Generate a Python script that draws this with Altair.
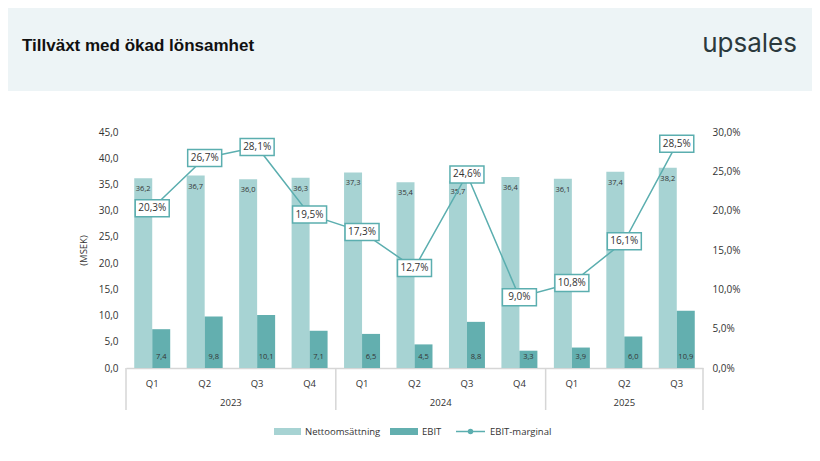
import altair as alt
import pandas as pd

years = ["2023"] * 4 + ["2024"] * 4 + ["2025"] * 3
quarters = ["Q1", "Q2", "Q3", "Q4", "Q1", "Q2", "Q3", "Q4", "Q1", "Q2", "Q3"]
netto = [36.2, 36.7, 36.0, 36.3, 37.3, 35.4, 35.7, 36.4, 36.1, 37.4, 38.2]
ebit = [7.4, 9.8, 10.1, 7.1, 6.5, 4.5, 8.8, 3.3, 3.9, 6.0, 10.9]
margin = [20.3, 26.7, 28.1, 19.5, 17.3, 12.7, 24.6, 9.0, 10.8, 16.1, 28.5]
year_labels = ["2023", "2024", "2025"]
year_mid = [2, 6, 9.5]
year_bounds = [0, 4, 8, 11]

series_order = ["Nettoomsättning", "EBIT"]
C_NETTO = "#A7D3D3"
C_EBIT = "#63AFAF"
C_LINE = "#5BAEAF"
C_TEXT = "#333333"
FONT = "Open Sans"

keys = [f"{y} {q}" for y, q in zip(years, quarters)]

wide = pd.DataFrame({"key": keys, "netto": netto, "ebit": ebit, "margin": margin})
wide["mlabel"] = wide["margin"].map(lambda v: f"{v:.1f}".replace(".", ",") + "%")

long = pd.concat([
    pd.DataFrame({"key": keys, "series": "Nettoomsättning", "value": netto}),
    pd.DataFrame({"key": keys, "series": "EBIT", "value": ebit}),
])
long["label"] = long["value"].map(lambda v: f"{v:.1f}".replace(".", ","))

x_band = alt.X(
    "key:N", sort=keys,
    scale=alt.Scale(paddingInner=0.314, paddingOuter=0.157),
    axis=alt.Axis(title=None, labelExpr="split(datum.label,' ')[1]", ticks=False,
                  domainColor="#d6d6d6", domainWidth=1.5, labelPadding=10,
                  labelFontSize=9.5, labelColor=C_TEXT, labelAngle=0, labelFont=FONT),
)
x_band_noaxis = alt.X("key:N", sort=keys,
                      scale=alt.Scale(paddingInner=0.314, paddingOuter=0.157), axis=None)
xoff = alt.XOffset("series:N", sort=series_order, scale=alt.Scale(paddingInner=0))

left_axis = alt.Axis(values=list(range(0, 46, 5)), grid=False, domain=False, ticks=False,
                     labelOverlap=False,
                     labelExpr="replace(format(datum.value,'.1f'),'.',',')",
                     labelPadding=8, labelFontSize=10, labelColor=C_TEXT, labelFont=FONT,
                     title="(MSEK)", titleFontWeight="normal", titleFontSize=9.5,
                     titleColor=C_TEXT, titleFont=FONT, titleX=-43, titleY=118,
                     titleAngle=-90, titleAlign="center", titleBaseline="middle")


def yl(field):
    return alt.Y(field, scale=alt.Scale(domain=[0, 45], nice=False), axis=left_axis)


right_axis = alt.Axis(orient="right", values=list(range(0, 31, 5)), grid=False,
                      domain=False, ticks=False, labelOverlap=False,
                      labelExpr="replace(format(datum.value,'.1f'),'.',',')+'%'",
                      labelPadding=9, labelFontSize=10, labelColor=C_TEXT,
                      labelFont=FONT, title=None)


def yr_(field):
    return alt.Y(field, scale=alt.Scale(domain=[0, 30], nice=False), axis=right_axis)


bars = alt.Chart(long).mark_bar().encode(
    x=x_band,
    xOffset=xoff,
    y=yl("value:Q"),
    color=alt.Color("series:N", scale=alt.Scale(domain=series_order, range=[C_NETTO, C_EBIT]),
                    legend=None),
)

netto_text = alt.Chart(long).transform_filter(alt.datum.series == "Nettoomsättning").mark_text(
    baseline="top", dy=7, fontSize=7.5, color=C_TEXT, font=FONT
).encode(x=x_band, xOffset=xoff, y=yl("value:Q"), text="label:N")

ebit_text = alt.Chart(long).transform_filter(alt.datum.series == "EBIT").transform_calculate(
    base="0"
).mark_text(
    baseline="middle", dy=-11, fontSize=7.5, color=C_TEXT, font=FONT
).encode(x=x_band, xOffset=xoff, y=yl("base:Q"), text="label:N")

left = alt.layer(bars, netto_text, ebit_text)

line = alt.Chart(wide).mark_line(color=C_LINE, strokeWidth=1.5).encode(
    x=x_band_noaxis, y=yr_("margin:Q"))
boxes = alt.Chart(wide).mark_point(
    shape="M-1,-0.5H1V0.5H-1Z", size=1156, filled=True, fill="white", fillOpacity=1,
    stroke=C_LINE, strokeWidth=1.5, opacity=1
).encode(x=x_band_noaxis, y=yr_("margin:Q"))
box_text = alt.Chart(wide).mark_text(fontSize=10, color=C_TEXT, font=FONT).encode(
    x=x_band_noaxis, y=yr_("margin:Q"), text="mlabel:N")

right = alt.layer(line, boxes, box_text)

# decorations: year group labels, separators
xq = alt.Scale(domain=[0, 11], nice=False, zero=False)
sep = alt.Chart(pd.DataFrame({"b": year_bounds})).mark_rule(color="#d6d6d6", strokeWidth=1.5).encode(
    x=alt.X("b:Q", scale=xq, axis=None), y=alt.value(236), y2=alt.value(278))
yrs = alt.Chart(pd.DataFrame({"m": year_mid, "y": year_labels})).mark_text(
    fontSize=9.5, color=C_TEXT, font=FONT, baseline="middle").encode(
    x=alt.X("m:Q", scale=xq, axis=None), y=alt.value(271), text="y:N")

one = pd.DataFrame({"a": [0]})
header = alt.Chart(one).mark_rect(color="#EDF4F6").encode(
    x=alt.value(-130), x2=alt.value(700), y=alt.value(-140), y2=alt.value(-41))
title = alt.Chart(one).mark_text(
    text="Tillväxt med ökad lönsamhet", align="left", baseline="middle",
    fontSize=17, fontWeight="bold", font="Liberation Sans", color="#111111"
).encode(x=alt.value(-104), y=alt.value(-86))
logo = alt.Chart(one).mark_text(
    text="upsales", align="right", baseline="middle", fontSize=26, font="Inter",
    color="#2B393D"
).encode(x=alt.value(671), y=alt.value(-88))

# legend
leg_sw1 = alt.Chart(one).mark_rect(color=C_NETTO).encode(
    x=alt.value(148), x2=alt.value(175), y=alt.value(296), y2=alt.value(303))
leg_sw2 = alt.Chart(one).mark_rect(color=C_EBIT).encode(
    x=alt.value(264), x2=alt.value(292), y=alt.value(296), y2=alt.value(303))
leg_ln = alt.Chart(one).mark_rule(color=C_LINE, strokeWidth=1.5).encode(
    x=alt.value(330), x2=alt.value(359), y=alt.value(299.5))
leg_pt = alt.Chart(one).mark_point(filled=True, color=C_LINE, size=30, opacity=1).encode(
    x=alt.value(344.5), y=alt.value(299.5))
leg_txt = alt.Chart(pd.DataFrame({"t": ["Nettoomsättning", "EBIT", "EBIT-marginal"],
                                   "px": [179, 296, 364]})).mark_text(
    align="left", baseline="middle", fontSize=9.5, color=C_TEXT, font=FONT).encode(
    x=alt.X("px:Q", scale=alt.Scale(domain=[0, 577], range=[0, 577], nice=False, zero=False), axis=None),
    y=alt.value(299.5), text="t:N")

decor = alt.layer(sep, yrs)

chart = alt.layer(
    header, title, logo, left, right, decor,
    leg_sw1, leg_sw2, leg_ln, leg_pt, leg_txt
).resolve_scale(
    x="independent", y="independent"
).properties(
    width=577, height=236,
    padding={"left": 118, "top": 124, "right": 109, "bottom": 85},
    autosize="none", background="white"
).configure_view(stroke=None)

chart.save("out.html", embed_options={"renderer": "svg", "actions": False})
